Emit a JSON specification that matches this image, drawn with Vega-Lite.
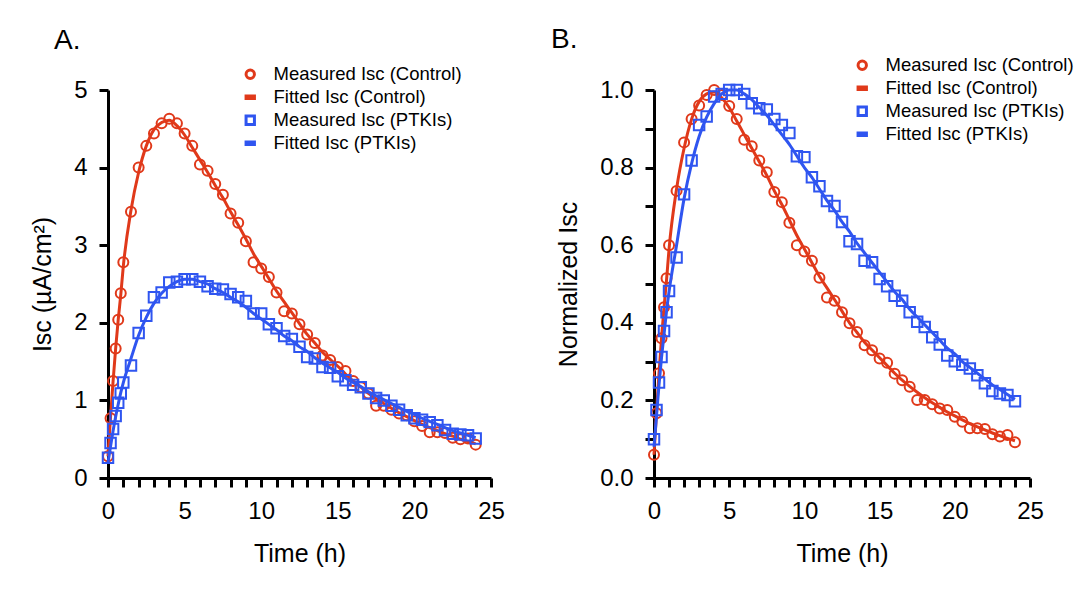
{
"$schema":"https://vega.github.io/schema/vega-lite/v6.json",
"padding":{"left":30,"top":26,"right":2,"bottom":2},
"spacing":46,
"config":{"font":"Liberation Sans","view":{"stroke":null},
"axis":{"domainColor":"black","domainWidth":3,"tickColor":"black","tickWidth":3,"tickSize":9,"labelFontSize":24,"labelColor":"black","titleFontSize":25,"titleFontWeight":"normal","titleColor":"black","grid":false,"labelPadding":12,"titlePadding":18,"labelFlush":false,"labelOverlap":false},
"legend":{"labelFontSize":18.5,"labelColor":"black","symbolStrokeWidth":3,"symbolSize":70,"rowPadding":3,"labelOffset":14,"padding":0,"labelLimit":300},
"title":{"fontSize":28,"fontWeight":"normal","color":"black","anchor":"start","frame":"group"}},
"resolve":{"scale":{"color":"independent","shape":"independent","x":"independent","y":"independent"},"legend":{"color":"independent","shape":"independent"}},
"datasets":{
"A":[
{"s":"Measured Isc (Control)","t":0,"v":0.28},{"s":"Measured Isc (Control)","t":0.167,"v":0.77},{"s":"Measured Isc (Control)","t":0.333,"v":1.25},{"s":"Measured Isc (Control)","t":0.5,"v":1.67},{"s":"Measured Isc (Control)","t":0.667,"v":2.04},{"s":"Measured Isc (Control)","t":0.833,"v":2.38},{"s":"Measured Isc (Control)","t":1,"v":2.78},{"s":"Measured Isc (Control)","t":1.5,"v":3.43},{"s":"Measured Isc (Control)","t":2,"v":4.0},{"s":"Measured Isc (Control)","t":2.5,"v":4.28},{"s":"Measured Isc (Control)","t":3,"v":4.44},{"s":"Measured Isc (Control)","t":3.5,"v":4.57},{"s":"Measured Isc (Control)","t":4,"v":4.63},{"s":"Measured Isc (Control)","t":4.5,"v":4.57},{"s":"Measured Isc (Control)","t":5,"v":4.44},{"s":"Measured Isc (Control)","t":5.5,"v":4.28},{"s":"Measured Isc (Control)","t":6,"v":4.04},{"s":"Measured Isc (Control)","t":6.5,"v":3.96},{"s":"Measured Isc (Control)","t":7,"v":3.79},{"s":"Measured Isc (Control)","t":7.5,"v":3.65},{"s":"Measured Isc (Control)","t":8,"v":3.41},{"s":"Measured Isc (Control)","t":8.5,"v":3.29},{"s":"Measured Isc (Control)","t":9,"v":3.05},{"s":"Measured Isc (Control)","t":9.5,"v":2.78},{"s":"Measured Isc (Control)","t":10,"v":2.7},{"s":"Measured Isc (Control)","t":10.5,"v":2.59},{"s":"Measured Isc (Control)","t":11,"v":2.39},{"s":"Measured Isc (Control)","t":11.5,"v":2.15},{"s":"Measured Isc (Control)","t":12,"v":2.12},{"s":"Measured Isc (Control)","t":12.5,"v":1.98},{"s":"Measured Isc (Control)","t":13,"v":1.85},{"s":"Measured Isc (Control)","t":13.5,"v":1.74},{"s":"Measured Isc (Control)","t":14,"v":1.58},{"s":"Measured Isc (Control)","t":14.5,"v":1.52},{"s":"Measured Isc (Control)","t":15,"v":1.43},{"s":"Measured Isc (Control)","t":15.5,"v":1.38},{"s":"Measured Isc (Control)","t":16,"v":1.25},{"s":"Measured Isc (Control)","t":16.5,"v":1.17},{"s":"Measured Isc (Control)","t":17,"v":1.09},{"s":"Measured Isc (Control)","t":17.5,"v":0.93},{"s":"Measured Isc (Control)","t":18,"v":0.93},{"s":"Measured Isc (Control)","t":18.5,"v":0.88},{"s":"Measured Isc (Control)","t":19,"v":0.83},{"s":"Measured Isc (Control)","t":19.5,"v":0.81},{"s":"Measured Isc (Control)","t":20,"v":0.73},{"s":"Measured Isc (Control)","t":20.5,"v":0.67},{"s":"Measured Isc (Control)","t":21,"v":0.59},{"s":"Measured Isc (Control)","t":21.5,"v":0.59},{"s":"Measured Isc (Control)","t":22,"v":0.58},{"s":"Measured Isc (Control)","t":22.5,"v":0.52},{"s":"Measured Isc (Control)","t":23,"v":0.5},{"s":"Measured Isc (Control)","t":23.5,"v":0.51},{"s":"Measured Isc (Control)","t":24,"v":0.43},
{"s":"Fitted Isc (Control)","t":0,"v":0.28},{"s":"Fitted Isc (Control)","t":0.167,"v":0.79},{"s":"Fitted Isc (Control)","t":0.333,"v":1.25},{"s":"Fitted Isc (Control)","t":0.5,"v":1.67},{"s":"Fitted Isc (Control)","t":0.667,"v":2.04},{"s":"Fitted Isc (Control)","t":0.833,"v":2.36},{"s":"Fitted Isc (Control)","t":1,"v":2.73},{"s":"Fitted Isc (Control)","t":1.5,"v":3.45},{"s":"Fitted Isc (Control)","t":2,"v":3.94},{"s":"Fitted Isc (Control)","t":2.5,"v":4.28},{"s":"Fitted Isc (Control)","t":3,"v":4.49},{"s":"Fitted Isc (Control)","t":3.5,"v":4.58},{"s":"Fitted Isc (Control)","t":4,"v":4.61},{"s":"Fitted Isc (Control)","t":4.5,"v":4.54},{"s":"Fitted Isc (Control)","t":5,"v":4.42},{"s":"Fitted Isc (Control)","t":5.5,"v":4.26},{"s":"Fitted Isc (Control)","t":6,"v":4.1},{"s":"Fitted Isc (Control)","t":6.5,"v":3.94},{"s":"Fitted Isc (Control)","t":7,"v":3.77},{"s":"Fitted Isc (Control)","t":7.5,"v":3.61},{"s":"Fitted Isc (Control)","t":8,"v":3.43},{"s":"Fitted Isc (Control)","t":8.5,"v":3.26},{"s":"Fitted Isc (Control)","t":9,"v":3.08},{"s":"Fitted Isc (Control)","t":9.5,"v":2.89},{"s":"Fitted Isc (Control)","t":10,"v":2.73},{"s":"Fitted Isc (Control)","t":10.5,"v":2.57},{"s":"Fitted Isc (Control)","t":11,"v":2.41},{"s":"Fitted Isc (Control)","t":11.5,"v":2.27},{"s":"Fitted Isc (Control)","t":12,"v":2.13},{"s":"Fitted Isc (Control)","t":12.5,"v":1.99},{"s":"Fitted Isc (Control)","t":13,"v":1.85},{"s":"Fitted Isc (Control)","t":13.5,"v":1.74},{"s":"Fitted Isc (Control)","t":14,"v":1.62},{"s":"Fitted Isc (Control)","t":14.5,"v":1.53},{"s":"Fitted Isc (Control)","t":15,"v":1.44},{"s":"Fitted Isc (Control)","t":15.5,"v":1.34},{"s":"Fitted Isc (Control)","t":16,"v":1.25},{"s":"Fitted Isc (Control)","t":16.5,"v":1.17},{"s":"Fitted Isc (Control)","t":17,"v":1.09},{"s":"Fitted Isc (Control)","t":17.5,"v":1.02},{"s":"Fitted Isc (Control)","t":18,"v":0.96},{"s":"Fitted Isc (Control)","t":18.5,"v":0.9},{"s":"Fitted Isc (Control)","t":19,"v":0.84},{"s":"Fitted Isc (Control)","t":19.5,"v":0.79},{"s":"Fitted Isc (Control)","t":20,"v":0.74},{"s":"Fitted Isc (Control)","t":20.5,"v":0.69},{"s":"Fitted Isc (Control)","t":21,"v":0.65},{"s":"Fitted Isc (Control)","t":21.5,"v":0.61},{"s":"Fitted Isc (Control)","t":22,"v":0.57},{"s":"Fitted Isc (Control)","t":22.5,"v":0.54},{"s":"Fitted Isc (Control)","t":23,"v":0.5},{"s":"Fitted Isc (Control)","t":23.5,"v":0.47},{"s":"Fitted Isc (Control)","t":24,"v":0.44},
{"s":"Measured Isc (PTKIs)","t":0,"v":0.26},{"s":"Measured Isc (PTKIs)","t":0.167,"v":0.45},{"s":"Measured Isc (PTKIs)","t":0.333,"v":0.63},{"s":"Measured Isc (PTKIs)","t":0.5,"v":0.8},{"s":"Measured Isc (PTKIs)","t":0.667,"v":0.97},{"s":"Measured Isc (PTKIs)","t":0.833,"v":1.09},{"s":"Measured Isc (PTKIs)","t":1,"v":1.23},{"s":"Measured Isc (PTKIs)","t":1.5,"v":1.45},{"s":"Measured Isc (PTKIs)","t":2,"v":1.87},{"s":"Measured Isc (PTKIs)","t":2.5,"v":2.09},{"s":"Measured Isc (PTKIs)","t":3,"v":2.33},{"s":"Measured Isc (PTKIs)","t":3.5,"v":2.39},{"s":"Measured Isc (PTKIs)","t":4,"v":2.52},{"s":"Measured Isc (PTKIs)","t":4.5,"v":2.53},{"s":"Measured Isc (PTKIs)","t":5,"v":2.56},{"s":"Measured Isc (PTKIs)","t":5.5,"v":2.56},{"s":"Measured Isc (PTKIs)","t":6,"v":2.53},{"s":"Measured Isc (PTKIs)","t":6.5,"v":2.47},{"s":"Measured Isc (PTKIs)","t":7,"v":2.44},{"s":"Measured Isc (PTKIs)","t":7.5,"v":2.43},{"s":"Measured Isc (PTKIs)","t":8,"v":2.37},{"s":"Measured Isc (PTKIs)","t":8.5,"v":2.33},{"s":"Measured Isc (PTKIs)","t":9,"v":2.28},{"s":"Measured Isc (PTKIs)","t":9.5,"v":2.12},{"s":"Measured Isc (PTKIs)","t":10,"v":2.12},{"s":"Measured Isc (PTKIs)","t":10.5,"v":1.98},{"s":"Measured Isc (PTKIs)","t":11,"v":1.93},{"s":"Measured Isc (PTKIs)","t":11.5,"v":1.83},{"s":"Measured Isc (PTKIs)","t":12,"v":1.79},{"s":"Measured Isc (PTKIs)","t":12.5,"v":1.69},{"s":"Measured Isc (PTKIs)","t":13,"v":1.56},{"s":"Measured Isc (PTKIs)","t":13.5,"v":1.54},{"s":"Measured Isc (PTKIs)","t":14,"v":1.43},{"s":"Measured Isc (PTKIs)","t":14.5,"v":1.42},{"s":"Measured Isc (PTKIs)","t":15,"v":1.31},{"s":"Measured Isc (PTKIs)","t":15.5,"v":1.26},{"s":"Measured Isc (PTKIs)","t":16,"v":1.2},{"s":"Measured Isc (PTKIs)","t":16.5,"v":1.17},{"s":"Measured Isc (PTKIs)","t":17,"v":1.09},{"s":"Measured Isc (PTKIs)","t":17.5,"v":1.03},{"s":"Measured Isc (PTKIs)","t":18,"v":1.0},{"s":"Measured Isc (PTKIs)","t":18.5,"v":0.93},{"s":"Measured Isc (PTKIs)","t":19,"v":0.88},{"s":"Measured Isc (PTKIs)","t":19.5,"v":0.81},{"s":"Measured Isc (PTKIs)","t":20,"v":0.77},{"s":"Measured Isc (PTKIs)","t":20.5,"v":0.75},{"s":"Measured Isc (PTKIs)","t":21,"v":0.72},{"s":"Measured Isc (PTKIs)","t":21.5,"v":0.68},{"s":"Measured Isc (PTKIs)","t":22,"v":0.62},{"s":"Measured Isc (PTKIs)","t":22.5,"v":0.57},{"s":"Measured Isc (PTKIs)","t":23,"v":0.56},{"s":"Measured Isc (PTKIs)","t":23.5,"v":0.55},{"s":"Measured Isc (PTKIs)","t":24,"v":0.51},
{"s":"Fitted Isc (PTKIs)","t":0,"v":0.2},{"s":"Fitted Isc (PTKIs)","t":0.167,"v":0.41},{"s":"Fitted Isc (PTKIs)","t":0.333,"v":0.61},{"s":"Fitted Isc (PTKIs)","t":0.5,"v":0.79},{"s":"Fitted Isc (PTKIs)","t":0.667,"v":0.95},{"s":"Fitted Isc (PTKIs)","t":0.833,"v":1.1},{"s":"Fitted Isc (PTKIs)","t":1,"v":1.23},{"s":"Fitted Isc (PTKIs)","t":1.5,"v":1.54},{"s":"Fitted Isc (PTKIs)","t":2,"v":1.84},{"s":"Fitted Isc (PTKIs)","t":2.5,"v":2.07},{"s":"Fitted Isc (PTKIs)","t":3,"v":2.25},{"s":"Fitted Isc (PTKIs)","t":3.5,"v":2.38},{"s":"Fitted Isc (PTKIs)","t":4,"v":2.47},{"s":"Fitted Isc (PTKIs)","t":4.5,"v":2.53},{"s":"Fitted Isc (PTKIs)","t":5,"v":2.56},{"s":"Fitted Isc (PTKIs)","t":5.5,"v":2.56},{"s":"Fitted Isc (PTKIs)","t":6,"v":2.53},{"s":"Fitted Isc (PTKIs)","t":6.5,"v":2.5},{"s":"Fitted Isc (PTKIs)","t":7,"v":2.44},{"s":"Fitted Isc (PTKIs)","t":7.5,"v":2.39},{"s":"Fitted Isc (PTKIs)","t":8,"v":2.33},{"s":"Fitted Isc (PTKIs)","t":8.5,"v":2.27},{"s":"Fitted Isc (PTKIs)","t":9,"v":2.2},{"s":"Fitted Isc (PTKIs)","t":9.5,"v":2.12},{"s":"Fitted Isc (PTKIs)","t":10,"v":2.05},{"s":"Fitted Isc (PTKIs)","t":10.5,"v":1.98},{"s":"Fitted Isc (PTKIs)","t":11,"v":1.91},{"s":"Fitted Isc (PTKIs)","t":11.5,"v":1.83},{"s":"Fitted Isc (PTKIs)","t":12,"v":1.77},{"s":"Fitted Isc (PTKIs)","t":12.5,"v":1.69},{"s":"Fitted Isc (PTKIs)","t":13,"v":1.63},{"s":"Fitted Isc (PTKIs)","t":13.5,"v":1.55},{"s":"Fitted Isc (PTKIs)","t":14,"v":1.48},{"s":"Fitted Isc (PTKIs)","t":14.5,"v":1.42},{"s":"Fitted Isc (PTKIs)","t":15,"v":1.36},{"s":"Fitted Isc (PTKIs)","t":15.5,"v":1.29},{"s":"Fitted Isc (PTKIs)","t":16,"v":1.23},{"s":"Fitted Isc (PTKIs)","t":16.5,"v":1.18},{"s":"Fitted Isc (PTKIs)","t":17,"v":1.11},{"s":"Fitted Isc (PTKIs)","t":17.5,"v":1.06},{"s":"Fitted Isc (PTKIs)","t":18,"v":1.01},{"s":"Fitted Isc (PTKIs)","t":18.5,"v":0.96},{"s":"Fitted Isc (PTKIs)","t":19,"v":0.91},{"s":"Fitted Isc (PTKIs)","t":19.5,"v":0.86},{"s":"Fitted Isc (PTKIs)","t":20,"v":0.82},{"s":"Fitted Isc (PTKIs)","t":20.5,"v":0.77},{"s":"Fitted Isc (PTKIs)","t":21,"v":0.73},{"s":"Fitted Isc (PTKIs)","t":21.5,"v":0.69},{"s":"Fitted Isc (PTKIs)","t":22,"v":0.65},{"s":"Fitted Isc (PTKIs)","t":22.5,"v":0.61},{"s":"Fitted Isc (PTKIs)","t":23,"v":0.58},{"s":"Fitted Isc (PTKIs)","t":23.5,"v":0.55},{"s":"Fitted Isc (PTKIs)","t":24,"v":0.52}
],
"B":[
{"s":"Measured Isc (Control)","t":0,"v":0.06},{"s":"Measured Isc (Control)","t":0.167,"v":0.167},{"s":"Measured Isc (Control)","t":0.333,"v":0.27},{"s":"Measured Isc (Control)","t":0.5,"v":0.36},{"s":"Measured Isc (Control)","t":0.667,"v":0.44},{"s":"Measured Isc (Control)","t":0.833,"v":0.515},{"s":"Measured Isc (Control)","t":1,"v":0.6},{"s":"Measured Isc (Control)","t":1.5,"v":0.74},{"s":"Measured Isc (Control)","t":2,"v":0.865},{"s":"Measured Isc (Control)","t":2.5,"v":0.925},{"s":"Measured Isc (Control)","t":3,"v":0.96},{"s":"Measured Isc (Control)","t":3.5,"v":0.987},{"s":"Measured Isc (Control)","t":4,"v":1.0},{"s":"Measured Isc (Control)","t":4.5,"v":0.987},{"s":"Measured Isc (Control)","t":5,"v":0.959},{"s":"Measured Isc (Control)","t":5.5,"v":0.925},{"s":"Measured Isc (Control)","t":6,"v":0.872},{"s":"Measured Isc (Control)","t":6.5,"v":0.855},{"s":"Measured Isc (Control)","t":7,"v":0.818},{"s":"Measured Isc (Control)","t":7.5,"v":0.788},{"s":"Measured Isc (Control)","t":8,"v":0.737},{"s":"Measured Isc (Control)","t":8.5,"v":0.711},{"s":"Measured Isc (Control)","t":9,"v":0.658},{"s":"Measured Isc (Control)","t":9.5,"v":0.6},{"s":"Measured Isc (Control)","t":10,"v":0.584},{"s":"Measured Isc (Control)","t":10.5,"v":0.56},{"s":"Measured Isc (Control)","t":11,"v":0.516},{"s":"Measured Isc (Control)","t":11.5,"v":0.465},{"s":"Measured Isc (Control)","t":12,"v":0.457},{"s":"Measured Isc (Control)","t":12.5,"v":0.427},{"s":"Measured Isc (Control)","t":13,"v":0.399},{"s":"Measured Isc (Control)","t":13.5,"v":0.376},{"s":"Measured Isc (Control)","t":14,"v":0.342},{"s":"Measured Isc (Control)","t":14.5,"v":0.329},{"s":"Measured Isc (Control)","t":15,"v":0.308},{"s":"Measured Isc (Control)","t":15.5,"v":0.297},{"s":"Measured Isc (Control)","t":16,"v":0.269},{"s":"Measured Isc (Control)","t":16.5,"v":0.252},{"s":"Measured Isc (Control)","t":17,"v":0.235},{"s":"Measured Isc (Control)","t":17.5,"v":0.201},{"s":"Measured Isc (Control)","t":18,"v":0.201},{"s":"Measured Isc (Control)","t":18.5,"v":0.19},{"s":"Measured Isc (Control)","t":19,"v":0.179},{"s":"Measured Isc (Control)","t":19.5,"v":0.175},{"s":"Measured Isc (Control)","t":20,"v":0.158},{"s":"Measured Isc (Control)","t":20.5,"v":0.145},{"s":"Measured Isc (Control)","t":21,"v":0.128},{"s":"Measured Isc (Control)","t":21.5,"v":0.128},{"s":"Measured Isc (Control)","t":22,"v":0.126},{"s":"Measured Isc (Control)","t":22.5,"v":0.113},{"s":"Measured Isc (Control)","t":23,"v":0.107},{"s":"Measured Isc (Control)","t":23.5,"v":0.111},{"s":"Measured Isc (Control)","t":24,"v":0.092},
{"s":"Fitted Isc (Control)","t":0,"v":0.06},{"s":"Fitted Isc (Control)","t":0.167,"v":0.17},{"s":"Fitted Isc (Control)","t":0.333,"v":0.27},{"s":"Fitted Isc (Control)","t":0.5,"v":0.36},{"s":"Fitted Isc (Control)","t":0.667,"v":0.44},{"s":"Fitted Isc (Control)","t":0.833,"v":0.51},{"s":"Fitted Isc (Control)","t":1,"v":0.59},{"s":"Fitted Isc (Control)","t":1.5,"v":0.745},{"s":"Fitted Isc (Control)","t":2,"v":0.85},{"s":"Fitted Isc (Control)","t":2.5,"v":0.925},{"s":"Fitted Isc (Control)","t":3,"v":0.97},{"s":"Fitted Isc (Control)","t":3.5,"v":0.99},{"s":"Fitted Isc (Control)","t":4,"v":0.995},{"s":"Fitted Isc (Control)","t":4.5,"v":0.98},{"s":"Fitted Isc (Control)","t":5,"v":0.955},{"s":"Fitted Isc (Control)","t":5.5,"v":0.92},{"s":"Fitted Isc (Control)","t":6,"v":0.885},{"s":"Fitted Isc (Control)","t":6.5,"v":0.85},{"s":"Fitted Isc (Control)","t":7,"v":0.815},{"s":"Fitted Isc (Control)","t":7.5,"v":0.78},{"s":"Fitted Isc (Control)","t":8,"v":0.74},{"s":"Fitted Isc (Control)","t":8.5,"v":0.705},{"s":"Fitted Isc (Control)","t":9,"v":0.665},{"s":"Fitted Isc (Control)","t":9.5,"v":0.625},{"s":"Fitted Isc (Control)","t":10,"v":0.59},{"s":"Fitted Isc (Control)","t":10.5,"v":0.555},{"s":"Fitted Isc (Control)","t":11,"v":0.52},{"s":"Fitted Isc (Control)","t":11.5,"v":0.49},{"s":"Fitted Isc (Control)","t":12,"v":0.46},{"s":"Fitted Isc (Control)","t":12.5,"v":0.43},{"s":"Fitted Isc (Control)","t":13,"v":0.4},{"s":"Fitted Isc (Control)","t":13.5,"v":0.375},{"s":"Fitted Isc (Control)","t":14,"v":0.35},{"s":"Fitted Isc (Control)","t":14.5,"v":0.33},{"s":"Fitted Isc (Control)","t":15,"v":0.31},{"s":"Fitted Isc (Control)","t":15.5,"v":0.29},{"s":"Fitted Isc (Control)","t":16,"v":0.27},{"s":"Fitted Isc (Control)","t":16.5,"v":0.252},{"s":"Fitted Isc (Control)","t":17,"v":0.236},{"s":"Fitted Isc (Control)","t":17.5,"v":0.221},{"s":"Fitted Isc (Control)","t":18,"v":0.207},{"s":"Fitted Isc (Control)","t":18.5,"v":0.194},{"s":"Fitted Isc (Control)","t":19,"v":0.182},{"s":"Fitted Isc (Control)","t":19.5,"v":0.17},{"s":"Fitted Isc (Control)","t":20,"v":0.16},{"s":"Fitted Isc (Control)","t":20.5,"v":0.15},{"s":"Fitted Isc (Control)","t":21,"v":0.14},{"s":"Fitted Isc (Control)","t":21.5,"v":0.132},{"s":"Fitted Isc (Control)","t":22,"v":0.124},{"s":"Fitted Isc (Control)","t":22.5,"v":0.116},{"s":"Fitted Isc (Control)","t":23,"v":0.109},{"s":"Fitted Isc (Control)","t":23.5,"v":0.102},{"s":"Fitted Isc (Control)","t":24,"v":0.096},
{"s":"Measured Isc (PTKIs)","t":0,"v":0.1},{"s":"Measured Isc (PTKIs)","t":0.167,"v":0.175},{"s":"Measured Isc (PTKIs)","t":0.333,"v":0.246},{"s":"Measured Isc (PTKIs)","t":0.5,"v":0.312},{"s":"Measured Isc (PTKIs)","t":0.667,"v":0.379},{"s":"Measured Isc (PTKIs)","t":0.833,"v":0.427},{"s":"Measured Isc (PTKIs)","t":1,"v":0.482},{"s":"Measured Isc (PTKIs)","t":1.5,"v":0.568},{"s":"Measured Isc (PTKIs)","t":2,"v":0.731},{"s":"Measured Isc (PTKIs)","t":2.5,"v":0.818},{"s":"Measured Isc (PTKIs)","t":3,"v":0.91},{"s":"Measured Isc (PTKIs)","t":3.5,"v":0.932},{"s":"Measured Isc (PTKIs)","t":4,"v":0.983},{"s":"Measured Isc (PTKIs)","t":4.5,"v":0.99},{"s":"Measured Isc (PTKIs)","t":5,"v":1.0},{"s":"Measured Isc (PTKIs)","t":5.5,"v":1.0},{"s":"Measured Isc (PTKIs)","t":6,"v":0.99},{"s":"Measured Isc (PTKIs)","t":6.5,"v":0.966},{"s":"Measured Isc (PTKIs)","t":7,"v":0.953},{"s":"Measured Isc (PTKIs)","t":7.5,"v":0.95},{"s":"Measured Isc (PTKIs)","t":8,"v":0.925},{"s":"Measured Isc (PTKIs)","t":8.5,"v":0.91},{"s":"Measured Isc (PTKIs)","t":9,"v":0.889},{"s":"Measured Isc (PTKIs)","t":9.5,"v":0.829},{"s":"Measured Isc (PTKIs)","t":10,"v":0.827},{"s":"Measured Isc (PTKIs)","t":10.5,"v":0.775},{"s":"Measured Isc (PTKIs)","t":11,"v":0.752},{"s":"Measured Isc (PTKIs)","t":11.5,"v":0.714},{"s":"Measured Isc (PTKIs)","t":12,"v":0.701},{"s":"Measured Isc (PTKIs)","t":12.5,"v":0.66},{"s":"Measured Isc (PTKIs)","t":13,"v":0.61},{"s":"Measured Isc (PTKIs)","t":13.5,"v":0.603},{"s":"Measured Isc (PTKIs)","t":14,"v":0.56},{"s":"Measured Isc (PTKIs)","t":14.5,"v":0.556},{"s":"Measured Isc (PTKIs)","t":15,"v":0.513},{"s":"Measured Isc (PTKIs)","t":15.5,"v":0.494},{"s":"Measured Isc (PTKIs)","t":16,"v":0.47},{"s":"Measured Isc (PTKIs)","t":16.5,"v":0.457},{"s":"Measured Isc (PTKIs)","t":17,"v":0.427},{"s":"Measured Isc (PTKIs)","t":17.5,"v":0.403},{"s":"Measured Isc (PTKIs)","t":18,"v":0.389},{"s":"Measured Isc (PTKIs)","t":18.5,"v":0.363},{"s":"Measured Isc (PTKIs)","t":19,"v":0.344},{"s":"Measured Isc (PTKIs)","t":19.5,"v":0.316},{"s":"Measured Isc (PTKIs)","t":20,"v":0.301},{"s":"Measured Isc (PTKIs)","t":20.5,"v":0.292},{"s":"Measured Isc (PTKIs)","t":21,"v":0.282},{"s":"Measured Isc (PTKIs)","t":21.5,"v":0.265},{"s":"Measured Isc (PTKIs)","t":22,"v":0.244},{"s":"Measured Isc (PTKIs)","t":22.5,"v":0.224},{"s":"Measured Isc (PTKIs)","t":23,"v":0.218},{"s":"Measured Isc (PTKIs)","t":23.5,"v":0.214},{"s":"Measured Isc (PTKIs)","t":24,"v":0.198},
{"s":"Fitted Isc (PTKIs)","t":0,"v":0.08},{"s":"Fitted Isc (PTKIs)","t":0.167,"v":0.16},{"s":"Fitted Isc (PTKIs)","t":0.333,"v":0.24},{"s":"Fitted Isc (PTKIs)","t":0.5,"v":0.31},{"s":"Fitted Isc (PTKIs)","t":0.667,"v":0.37},{"s":"Fitted Isc (PTKIs)","t":0.833,"v":0.43},{"s":"Fitted Isc (PTKIs)","t":1,"v":0.48},{"s":"Fitted Isc (PTKIs)","t":1.5,"v":0.6},{"s":"Fitted Isc (PTKIs)","t":2,"v":0.72},{"s":"Fitted Isc (PTKIs)","t":2.5,"v":0.81},{"s":"Fitted Isc (PTKIs)","t":3,"v":0.88},{"s":"Fitted Isc (PTKIs)","t":3.5,"v":0.93},{"s":"Fitted Isc (PTKIs)","t":4,"v":0.965},{"s":"Fitted Isc (PTKIs)","t":4.5,"v":0.99},{"s":"Fitted Isc (PTKIs)","t":5,"v":1.0},{"s":"Fitted Isc (PTKIs)","t":5.5,"v":1.0},{"s":"Fitted Isc (PTKIs)","t":6,"v":0.99},{"s":"Fitted Isc (PTKIs)","t":6.5,"v":0.975},{"s":"Fitted Isc (PTKIs)","t":7,"v":0.955},{"s":"Fitted Isc (PTKIs)","t":7.5,"v":0.935},{"s":"Fitted Isc (PTKIs)","t":8,"v":0.91},{"s":"Fitted Isc (PTKIs)","t":8.5,"v":0.885},{"s":"Fitted Isc (PTKIs)","t":9,"v":0.86},{"s":"Fitted Isc (PTKIs)","t":9.5,"v":0.83},{"s":"Fitted Isc (PTKIs)","t":10,"v":0.8},{"s":"Fitted Isc (PTKIs)","t":10.5,"v":0.775},{"s":"Fitted Isc (PTKIs)","t":11,"v":0.745},{"s":"Fitted Isc (PTKIs)","t":11.5,"v":0.715},{"s":"Fitted Isc (PTKIs)","t":12,"v":0.69},{"s":"Fitted Isc (PTKIs)","t":12.5,"v":0.66},{"s":"Fitted Isc (PTKIs)","t":13,"v":0.635},{"s":"Fitted Isc (PTKIs)","t":13.5,"v":0.605},{"s":"Fitted Isc (PTKIs)","t":14,"v":0.58},{"s":"Fitted Isc (PTKIs)","t":14.5,"v":0.555},{"s":"Fitted Isc (PTKIs)","t":15,"v":0.53},{"s":"Fitted Isc (PTKIs)","t":15.5,"v":0.505},{"s":"Fitted Isc (PTKIs)","t":16,"v":0.48},{"s":"Fitted Isc (PTKIs)","t":16.5,"v":0.46},{"s":"Fitted Isc (PTKIs)","t":17,"v":0.435},{"s":"Fitted Isc (PTKIs)","t":17.5,"v":0.415},{"s":"Fitted Isc (PTKIs)","t":18,"v":0.395},{"s":"Fitted Isc (PTKIs)","t":18.5,"v":0.375},{"s":"Fitted Isc (PTKIs)","t":19,"v":0.355},{"s":"Fitted Isc (PTKIs)","t":19.5,"v":0.335},{"s":"Fitted Isc (PTKIs)","t":20,"v":0.32},{"s":"Fitted Isc (PTKIs)","t":20.5,"v":0.3},{"s":"Fitted Isc (PTKIs)","t":21,"v":0.285},{"s":"Fitted Isc (PTKIs)","t":21.5,"v":0.27},{"s":"Fitted Isc (PTKIs)","t":22,"v":0.255},{"s":"Fitted Isc (PTKIs)","t":22.5,"v":0.24},{"s":"Fitted Isc (PTKIs)","t":23,"v":0.228},{"s":"Fitted Isc (PTKIs)","t":23.5,"v":0.215},{"s":"Fitted Isc (PTKIs)","t":24,"v":0.203}
]},
"hconcat":[
{"width":383,"height":388,"data":{"name":"A"},
"title":{"text":"A.","dx":-54,"offset":10},
"encoding":{
"x":{"field":"t","type":"quantitative","scale":{"domain":[0,25],"nice":false,"zero":false},"axis":{"title":"Time (h)","values":[0,1,2,3,4,5,6,7,8,9,10,11,12,13,14,15,16,17,18,19,20,21,22,23,24,25],"labelExpr":"datum.value % 5 === 0 ? datum.label : ''"}},
"y":{"field":"v","type":"quantitative","scale":{"domain":[0,5],"nice":false},"axis":{"title":"Isc (µA/cm²)","values":[0,1,2,3,4,5]}}},
"layer":[
{"transform":[{"filter":"datum.s === 'Measured Isc (Control)'"}],"mark":{"type":"point","filled":false,"strokeWidth":2,"size":100,"opacity":1},
"encoding":{"color":{"field":"s","type":"nominal","scale":{"domain":["Measured Isc (Control)","Fitted Isc (Control)","Measured Isc (PTKIs)","Fitted Isc (PTKIs)"],"range":["#e0391a","#e0391a","#2f55f0","#2f55f0"]},"legend":{"orient":"none","legendX":133,"legendY":-25,"title":null}},
"shape":{"field":"s","type":"nominal","scale":{"domain":["Measured Isc (Control)","Fitted Isc (Control)","Measured Isc (PTKIs)","Fitted Isc (PTKIs)"],"range":["circle","M-1,-0.3H1V0.3H-1Z","square","M-1,-0.3H1V0.3H-1Z"]},"legend":{"orient":"none","legendX":133,"legendY":-25,"title":null}}}},
{"transform":[{"filter":"datum.s === 'Fitted Isc (Control)'"}],"mark":{"type":"line","color":"#e0391a","strokeWidth":3,"interpolate":"monotone"}},
{"transform":[{"filter":"datum.s === 'Measured Isc (PTKIs)'"}],"mark":{"type":"point","filled":false,"strokeWidth":2,"size":110,"opacity":1},
"encoding":{"color":{"field":"s","type":"nominal","scale":{"domain":["Measured Isc (Control)","Fitted Isc (Control)","Measured Isc (PTKIs)","Fitted Isc (PTKIs)"],"range":["#e0391a","#e0391a","#2f55f0","#2f55f0"]},"legend":{"orient":"none","legendX":133,"legendY":-25,"title":null}},
"shape":{"field":"s","type":"nominal","scale":{"domain":["Measured Isc (Control)","Fitted Isc (Control)","Measured Isc (PTKIs)","Fitted Isc (PTKIs)"],"range":["circle","M-1,-0.3H1V0.3H-1Z","square","M-1,-0.3H1V0.3H-1Z"]},"legend":{"orient":"none","legendX":133,"legendY":-25,"title":null}}}},
{"transform":[{"filter":"datum.s === 'Fitted Isc (PTKIs)'"}],"mark":{"type":"line","color":"#2f55f0","strokeWidth":3,"interpolate":"monotone"}}
]},
{"width":376,"height":388,"data":{"name":"B"},
"title":{"text":"B.","dx":-103,"offset":2},
"encoding":{
"x":{"field":"t","type":"quantitative","scale":{"domain":[0,25],"nice":false,"zero":false},"axis":{"title":"Time (h)","values":[0,1,2,3,4,5,6,7,8,9,10,11,12,13,14,15,16,17,18,19,20,21,22,23,24,25],"labelExpr":"datum.value % 5 === 0 ? datum.label : ''"}},
"y":{"field":"v","type":"quantitative","scale":{"domain":[0,1],"nice":false},"axis":{"title":"Normalized Isc","values":[0,0.1,0.2,0.3,0.4,0.5,0.6,0.7,0.8,0.9,1],"labelExpr":"round(datum.value*10) % 2 === 0 ? format(datum.value, '.1f') : ''"}}},
"layer":[
{"transform":[{"filter":"datum.s === 'Measured Isc (Control)'"}],"mark":{"type":"point","filled":false,"strokeWidth":2,"size":100,"opacity":1},
"encoding":{"color":{"field":"s","type":"nominal","scale":{"domain":["Measured Isc (Control)","Fitted Isc (Control)","Measured Isc (PTKIs)","Fitted Isc (PTKIs)"],"range":["#e0391a","#e0391a","#2f55f0","#2f55f0"]},"legend":{"orient":"none","legendX":199,"legendY":-34,"title":null}},
"shape":{"field":"s","type":"nominal","scale":{"domain":["Measured Isc (Control)","Fitted Isc (Control)","Measured Isc (PTKIs)","Fitted Isc (PTKIs)"],"range":["circle","M-1,-0.3H1V0.3H-1Z","square","M-1,-0.3H1V0.3H-1Z"]},"legend":{"orient":"none","legendX":199,"legendY":-34,"title":null}}}},
{"transform":[{"filter":"datum.s === 'Fitted Isc (Control)'"}],"mark":{"type":"line","color":"#e0391a","strokeWidth":3,"interpolate":"monotone"}},
{"transform":[{"filter":"datum.s === 'Measured Isc (PTKIs)'"}],"mark":{"type":"point","filled":false,"strokeWidth":2,"size":110,"opacity":1},
"encoding":{"color":{"field":"s","type":"nominal","scale":{"domain":["Measured Isc (Control)","Fitted Isc (Control)","Measured Isc (PTKIs)","Fitted Isc (PTKIs)"],"range":["#e0391a","#e0391a","#2f55f0","#2f55f0"]},"legend":{"orient":"none","legendX":199,"legendY":-34,"title":null}},
"shape":{"field":"s","type":"nominal","scale":{"domain":["Measured Isc (Control)","Fitted Isc (Control)","Measured Isc (PTKIs)","Fitted Isc (PTKIs)"],"range":["circle","M-1,-0.3H1V0.3H-1Z","square","M-1,-0.3H1V0.3H-1Z"]},"legend":{"orient":"none","legendX":199,"legendY":-34,"title":null}}}},
{"transform":[{"filter":"datum.s === 'Fitted Isc (PTKIs)'"}],"mark":{"type":"line","color":"#2f55f0","strokeWidth":3,"interpolate":"monotone"}}
]}
]}
